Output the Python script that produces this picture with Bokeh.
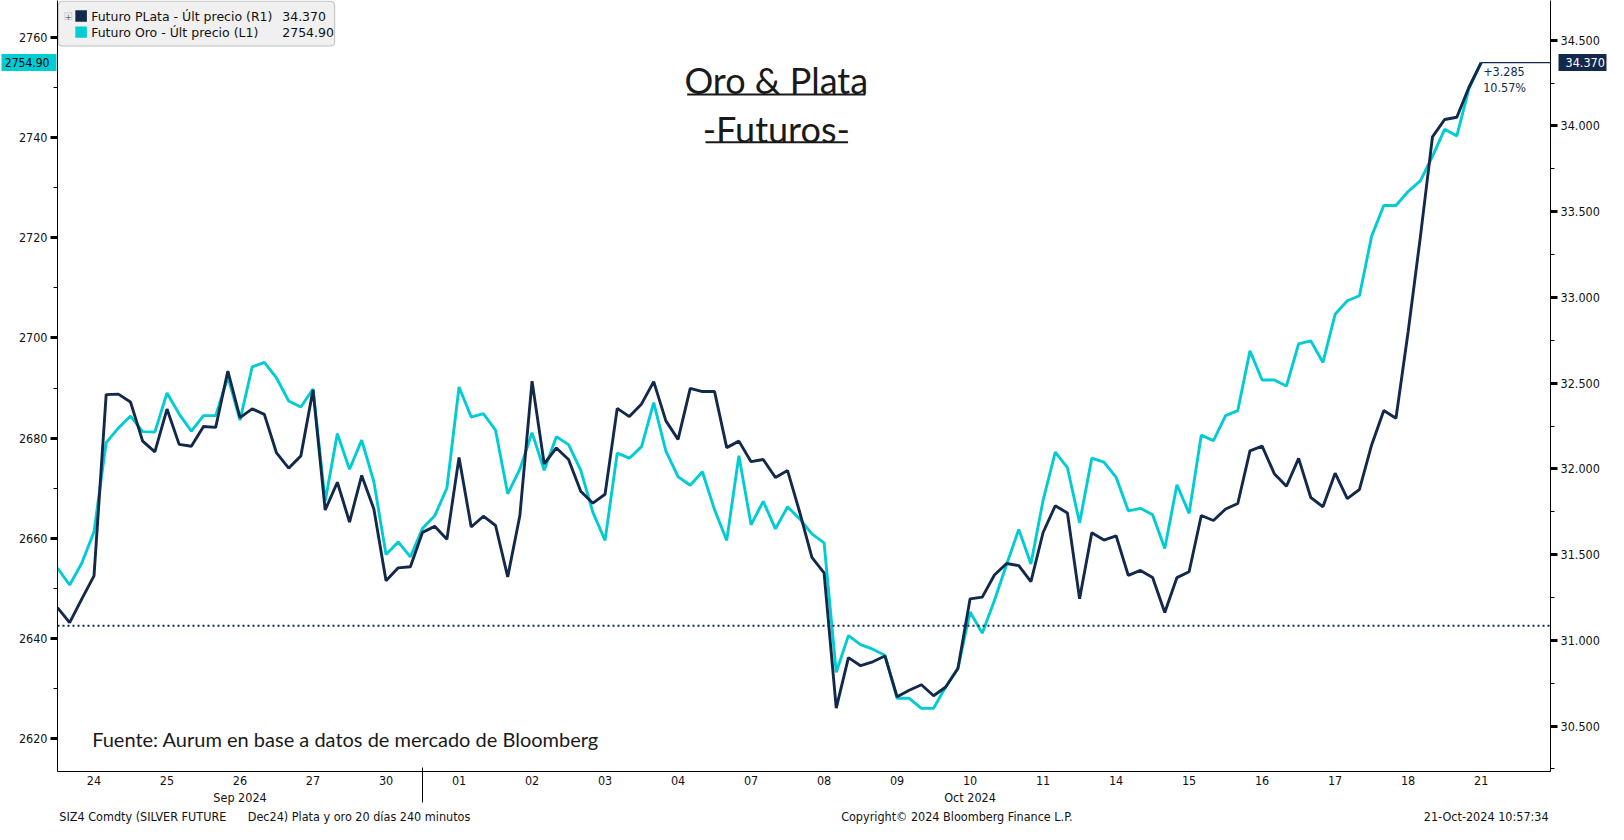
from bokeh.plotting import figure
from bokeh.layouts import column
from bokeh.models import (Range1d, LinearAxis, FixedTicker, PrintfTickFormatter, Span, Label,
                          BoxAnnotation)
from bokeh.embed import file_html
from bokeh.resources import INLINE

# ---------------- data ----------------
silver = [31.191, 31.103, 31.242, 31.376, 32.433, 32.436, 32.390, 32.162, 32.099, 32.349,
          32.143, 32.132, 32.247, 32.242, 32.571, 32.299, 32.350, 32.318, 32.093, 32.004,
          32.076, 32.461, 31.760, 31.922, 31.690, 31.962, 31.766, 31.347, 31.423, 31.429,
          31.630, 31.665, 31.589, 32.067, 31.661, 31.724, 31.670, 31.370, 31.728, 32.512,
          32.029, 32.122, 32.055, 31.870, 31.800, 31.852, 32.353, 32.305, 32.379, 32.509,
          32.280, 32.172, 32.470, 32.451, 32.451, 32.124, 32.162, 32.042, 32.055, 31.950,
          31.990, 31.747, 31.484, 31.393, 30.605, 30.899, 30.852, 30.875, 30.909, 30.671,
          30.709, 30.741, 30.677, 30.728, 30.836, 31.242, 31.252, 31.381, 31.448, 31.436,
          31.343, 31.629, 31.785, 31.743, 31.242, 31.627, 31.585, 31.610, 31.379, 31.408,
          31.366, 31.162, 31.366, 31.400, 31.728, 31.699, 31.766, 31.798, 32.105, 32.133,
          31.972, 31.899, 32.061, 31.833, 31.779, 31.975, 31.827, 31.880, 32.140, 32.341,
          32.295, 32.800, 33.350, 33.937, 34.038, 34.051, 34.226, 34.370]

gold = [2654.1, 2650.7, 2655.1, 2661.3, 2679.1, 2682.0, 2684.4, 2681.3, 2681.2, 2689.0,
        2684.8, 2681.4, 2684.5, 2684.5, 2692.2, 2683.6, 2694.2, 2695.1, 2692.0, 2687.4,
        2686.2, 2689.8, 2667.4, 2680.9, 2673.8, 2679.6, 2671.3, 2656.8, 2659.3, 2656.3,
        2662.0, 2664.5, 2670.0, 2690.2, 2684.2, 2684.9, 2681.6, 2668.9, 2673.8, 2681.1,
        2673.6, 2680.3, 2678.7, 2673.6, 2665.2, 2659.6, 2677.0, 2676.0, 2678.3, 2687.1,
        2677.4, 2672.3, 2670.6, 2673.3, 2665.7, 2659.6, 2676.5, 2662.7, 2667.4, 2661.9,
        2666.3, 2663.9, 2660.9, 2659.1, 2633.3, 2640.6, 2638.8, 2637.9, 2636.7, 2628.1,
        2628.1, 2626.1, 2626.1, 2630.4, 2634.1, 2645.3, 2641.1, 2647.6, 2654.8, 2661.8,
        2654.9, 2667.6, 2677.2, 2674.1, 2663.1, 2676.0, 2675.2, 2672.2, 2665.5, 2666.0,
        2664.7, 2658.0, 2670.7, 2665.0, 2680.6, 2679.5, 2684.5, 2685.5, 2697.4, 2691.6,
        2691.6, 2690.4, 2698.8, 2699.4, 2695.1, 2704.7, 2707.4, 2708.4, 2720.3, 2726.4,
        2726.4, 2729.2, 2731.3, 2736.2, 2741.6, 2740.3, 2749.7, 2754.9]

day_labels = ["24", "25", "26", "27", "30", "01", "02", "03", "04", "07",
              "08", "09", "10", "11", "14", "15", "16", "17", "18", "21"]
month_labels = ["Sep 2024", "Oct 2024"]
month_label_days = ["26", "10"]
last_day_of_first_month = "30"
bars_per_day = 6

gold_ticks = [2620, 2640, 2660, 2680, 2700, 2720, 2740, 2760]
silver_ticks = [30.5, 31.0, 31.5, 32.0, 32.5, 33.0, 33.5, 34.0, 34.5]

silver_last = 34.370
silver_change = 3.285
silver_change_pct = 10.57
gold_last = 2754.90

silver_name = "Futuro PLata - Últ precio (R1)"
gold_name = "Futuro Oro - Últ precio (L1)"
title_lines = ["Oro & Plata", "-Futuros-"]
source_text = "Fuente: Aurum en base a datos de mercado de Bloomberg"
footer_left = "SIZ4 Comdty (SILVER FUTURE\u00a0\u00a0\u00a0\u00a0\u00a0\u00a0Dec24) Plata y oro 20 días 240 minutos"
footer_mid = "Copyright© 2024 Bloomberg Finance L.P."
footer_right = "21-Oct-2024 10:57:34"

# ---------------- styling / geometry ----------------
NAVY = "#13294b"
CYAN = "#00ccd3"
W = 1608
FL, FR, FT, FB = 57, 1550, 0, 772          # frame edges in figure pixels
BOTTOM = 35
H1 = FB + BOTTOM
H2 = 824 - H1
XR = (0.0, 122.7)
GR = (2613.5, 2767.3)
SR = (30.235, 34.732)
TICK_FONT = "DejaVu Sans Condensed, DejaVu Sans"
LEGEND_FONT = "DejaVu Sans"
NARROW_FONT = "Liberation Sans Narrow, DejaVu Sans Condensed, Liberation Sans"
TITLE_FONT = "Lato"


def X(fx):
    return XR[0] + (fx - FL) / (FR - FL) * (XR[1] - XR[0])


def Y(fy):
    return GR[1] - (fy - FT) / (FB - FT) * (GR[1] - GR[0])


def RX(rx):   # reference-picture x -> figure px
    return FL + (rx - 57) * (FR - FL) / (1565 - 57)


def RY(ry):   # reference-picture y -> figure px (inside frame)
    return ry * FB / 788.0


def px_x(i):
    return FL + (i - XR[0]) / (XR[1] - XR[0]) * (FR - FL)


def px_s(v):
    return FT + (SR[1] - v) / (SR[1] - SR[0]) * (FB - FT)


xs = list(range(len(silver)))

p = figure(width=W, height=H1, x_range=Range1d(*XR), y_range=Range1d(*GR),
           output_backend="svg", toolbar_location=None,
           min_border_left=FL, min_border_right=W - FR, min_border_top=FT,
           min_border_bottom=BOTTOM)
p.extra_y_ranges = {"right": Range1d(*SR)}
p.outline_line_color = None
p.background_fill_color = "white"
p.border_fill_color = "white"
p.xgrid.visible = False
p.ygrid.visible = False

# left axis (gold)
ly = p.yaxis[0]
ly.ticker = FixedTicker(ticks=gold_ticks,
                        minor_ticks=[t + 10 for t in gold_ticks[:-1]])
ly.formatter = PrintfTickFormatter(format="%d")

ry = LinearAxis(y_range_name="right")
ry.ticker = FixedTicker(ticks=silver_ticks,
                        minor_ticks=[t + 0.25 for t in silver_ticks[:-1]] + [silver_ticks[0] - 0.25])
ry.formatter = PrintfTickFormatter(format="%.3f")
p.add_layout(ry, "right")

for ax in (ly, ry):
    ax.axis_line_color = "black"
    ax.axis_line_width = 1
    ax.major_tick_out = 7
    ax.major_tick_in = 0
    ax.major_tick_line_color = "black"
    ax.major_tick_line_width = 3
    ax.minor_tick_out = 4
    ax.minor_tick_in = 0
    ax.minor_tick_line_color = "black"
    ax.major_label_standoff = 3
    ax.major_label_text_font = TICK_FONT
    ax.major_label_text_font_size = "12.5px"
    ax.major_label_text_color = "#111111"

# last-value tags on both value axes (a single wide tick with its label on top)
tag_r = LinearAxis(y_range_name="right",
                   ticker=FixedTicker(ticks=[silver_last], minor_ticks=[]),
                   formatter=PrintfTickFormatter(format="%.3f"))
tag_r.axis_line_color = None
tag_r.minor_tick_line_color = None
tag_r.major_tick_line_color = NAVY
tag_r.major_tick_line_width = 17
tag_r.major_tick_in = 44
tag_r.major_tick_out = 4
tag_r.major_label_standoff = -41
tag_r.major_label_text_font = TICK_FONT
tag_r.major_label_text_font_size = "12.5px"
tag_r.major_label_text_color = "white"
p.add_layout(tag_r, "right")

tag_l = LinearAxis(ticker=FixedTicker(ticks=[gold_last], minor_ticks=[]),
                   formatter=PrintfTickFormatter(format="%.2f"))
tag_l.axis_line_color = None
tag_l.minor_tick_line_color = None
tag_l.major_tick_line_color = CYAN
tag_l.major_tick_line_width = 17
tag_l.major_tick_in = 41
tag_l.major_tick_out = 14
tag_l.major_label_standoff = -48
tag_l.major_label_text_font = TICK_FONT
tag_l.major_label_text_font_size = "12px"
tag_l.major_label_text_color = "black"
p.add_layout(tag_l, "left")

# day axis
xa = p.xaxis[0]
centers = [k * bars_per_day + bars_per_day / 2 for k in range(len(day_labels))]
xa.ticker = FixedTicker(ticks=centers, minor_ticks=[])
xa.major_label_overrides = {c: lab for c, lab in zip(centers, day_labels)}
xa.major_tick_line_color = None
xa.minor_tick_line_color = None
xa.major_tick_out = 0
xa.major_tick_in = 0
xa.major_label_standoff = 4
xa.axis_line_color = "black"
xa.major_label_text_font = NARROW_FONT
xa.major_label_text_font_size = "12.5px"
xa.major_label_text_color = "#111111"

# month axis (with month separator as a long minor tick)
sep_x = (day_labels.index(last_day_of_first_month) + 1) * bars_per_day
month_pos = [day_labels.index(d) * bars_per_day + bars_per_day / 2 for d in month_label_days]
ma = LinearAxis(ticker=FixedTicker(ticks=month_pos, minor_ticks=[sep_x]))
ma.major_label_overrides = {c: lab for c, lab in zip(month_pos, month_labels)}
ma.axis_line_color = None
ma.major_tick_line_color = None
ma.major_tick_out = 0
ma.major_tick_in = 0
ma.minor_tick_line_color = "black"
ma.minor_tick_line_width = 1
ma.minor_tick_in = 20
ma.minor_tick_out = 15
ma.major_label_standoff = -13
ma.major_label_text_font = NARROW_FONT
ma.major_label_text_font_size = "12.5px"
ma.major_label_text_color = "#111111"
p.add_layout(ma, "below")

# reference dotted line (start value of silver change)
p.add_layout(Span(location=silver_last - silver_change, dimension="width",
                  y_range_name="right", line_color=NAVY, line_width=2, line_dash="2 3"))

# series
p.line(xs, gold, line_color=CYAN, line_width=2.9)
p.line(xs, silver, line_color=NAVY, line_width=2.9, y_range_name="right")
p.segment(x0=[xs[-1]], y0=[silver_last], x1=[XR[1]], y1=[silver_last],
          line_color=NAVY, line_width=1.2, y_range_name="right")

# change annotation
lx = px_x(xs[-1]) + 2
ly_px = px_s(silver_last)
p.add_layout(Label(x=X(lx), y=Y(ly_px + 8.5), text="+%.3f" % silver_change,
                   text_font=TICK_FONT, text_font_size="12.5px", text_color=NAVY,
                   text_align="left", text_baseline="middle"))
p.add_layout(Label(x=X(lx), y=Y(ly_px + 24.5), text="%.2f%%" % silver_change_pct,
                   text_font=TICK_FONT, text_font_size="12.5px", text_color=NAVY,
                   text_align="left", text_baseline="middle"))

# legend
p.add_layout(BoxAnnotation(left=X(FL + 0.7), right=X(RX(337)), top=Y(0.7), bottom=Y(RY(46.6)),
                           fill_color="#f0f0f0", fill_alpha=1, line_color="#444444",
                           line_width=1, border_radius=4))
p.add_layout(BoxAnnotation(left=X(RX(64.5)), right=X(RX(71.5)), top=Y(RY(12.5)),
                           bottom=Y(RY(19.5)), fill_color="#f0f0f0", fill_alpha=1,
                           line_color="#888888", line_width=1))
p.add_layout(Label(x=X(RX(68)), y=Y(RY(16)), text="+", text_font="DejaVu Sans",
                   text_font_size="8px", text_color="#666666", text_align="center",
                   text_baseline="middle"))
p.add_layout(BoxAnnotation(left=X(RX(75)), right=X(RX(86.7)), top=Y(RY(10)), bottom=Y(RY(21.7)),
                           fill_color=NAVY, fill_alpha=1, line_color=None))
p.add_layout(BoxAnnotation(left=X(RX(75)), right=X(RX(86.7)), top=Y(RY(26.5)), bottom=Y(RY(38)),
                           fill_color=CYAN, fill_alpha=1, line_color=None))
for row_y, name, val in [(16.5, silver_name, "%.3f" % silver_last),
                         (33.2, gold_name, "%.2f" % gold_last)]:
    p.add_layout(Label(x=X(RX(91)), y=Y(RY(row_y)), text=name, text_font=LEGEND_FONT,
                       text_font_size="12.5px", text_color="#111111",
                       text_align="left", text_baseline="middle"))
    p.add_layout(Label(x=X(RX(284)), y=Y(RY(row_y)), text=val, text_font=LEGEND_FONT,
                       text_font_size="12.5px", text_color="#111111",
                       text_align="left", text_baseline="middle"))

# title
for (cy, txt, x0, x1, uy) in [(81, title_lines[0], 693, 873, 96), (131.5, title_lines[1], 711.5, 855.5, 145)]:
    p.add_layout(Label(x=X(RX(783)), y=Y(RY(cy)), text=txt, text_font=TITLE_FONT,
                       text_font_size="36px", text_color="#1a1a1a",
                       text_align="center", text_baseline="middle"))
    p.add_layout(BoxAnnotation(left=X(RX(x0)), right=X(RX(x1)), top=Y(RY(uy) - 1),
                               bottom=Y(RY(uy) + 1), fill_color="#1a1a1a", fill_alpha=1,
                               line_color=None))

# source
p.add_layout(Label(x=X(RX(92)), y=Y(RY(755)), text=source_text, text_font=TITLE_FONT,
                   text_font_size="20px", text_color="#1a1a1a",
                   text_align="left", text_baseline="middle"))

# footer strip
foot = figure(width=W, height=H2, x_range=Range1d(0, W), y_range=Range1d(0, H2),
              output_backend="svg", toolbar_location=None,
              x_axis_location=None, y_axis_location=None,
              min_border_left=0, min_border_right=0, min_border_top=0, min_border_bottom=0)
foot.outline_line_color = None
foot.xgrid.visible = False
foot.ygrid.visible = False
foot.border_fill_color = "white"
for fx, txt, al in [(2, footer_left, "left"), (844, footer_mid, "left"), (W - 2, footer_right, "right")]:
    foot.add_layout(Label(x=fx, y=H2 / 2, text=txt, text_font=NARROW_FONT,
                          text_font_size="12.5px", text_color="#111111",
                          text_align=al, text_baseline="middle"))

layout = column(p, foot, spacing=0)
open("out.html", "w").write(file_html(layout, INLINE))
